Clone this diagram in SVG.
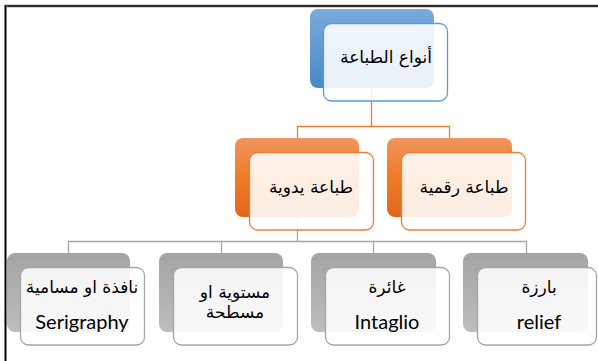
<svg xmlns="http://www.w3.org/2000/svg" width="598" height="361" viewBox="0 0 598 361">
<style>
.ar{font-family:"DejaVu Sans",sans-serif;font-size:17px;fill:#000;text-anchor:middle}
.la{font-family:Lato,"Liberation Sans",sans-serif;font-size:20px;fill:#000;text-anchor:middle}
.fr{fill:#fff;fill-opacity:0.88;stroke-width:1.3}
.fb{stroke:#5b9bd5}.fo{stroke:#ed7d31}.fg{stroke:#a5a5a5}
.co{fill:none;stroke:#ed7d31;stroke-width:1.3}
.cg{fill:none;stroke:#a5a5a5;stroke-width:1.3}
</style>
<defs>
<linearGradient id="gb" x1="0" y1="0" x2="0" y2="1"><stop offset="0" stop-color="#7aaadc"/><stop offset="1" stop-color="#4a88c8"/></linearGradient>
<linearGradient id="go" x1="0" y1="0" x2="0" y2="1"><stop offset="0" stop-color="#f09660"/><stop offset="0.5" stop-color="#f07b25"/><stop offset="1" stop-color="#e0661a"/></linearGradient>
<linearGradient id="gg" x1="0" y1="0" x2="0" y2="1"><stop offset="0" stop-color="#a4a4a4"/><stop offset="1" stop-color="#bdbdbd"/></linearGradient>
</defs>
<rect width="598" height="361" fill="#fff"/>
<g id="frame">
<line x1="4" y1="6" x2="598" y2="6" stroke="#aaa" stroke-width="3"/>
<line x1="4" y1="6" x2="598" y2="6" stroke="#000" stroke-width="1.5"/>
<line x1="5.5" y1="5" x2="5.5" y2="361" stroke="#aaa" stroke-width="3"/>
<line x1="5.5" y1="5" x2="5.5" y2="361" stroke="#000" stroke-width="1.5"/>
</g>
<g id="connectors">
<path class="co" d="M371.5 88V126.5M297.5 138V126.5H449.5V138"/>
<path class="cg" d="M297.5 217V241.5M68.5 253V241.5H526.5V253M221.5 241.5V253M373.5 241.5V253"/>
</g>
<g id="root">
<rect x="310" y="9" width="124" height="79" rx="8" fill="url(#gb)"/>
<rect class="fr fb" x="323.5" y="23.5" width="124" height="77.5" rx="8"/>
<text class="ar" x="386" y="63">أنواع الطباعة</text>
</g>
<g id="manual">
<rect x="235" y="138" width="124" height="79" rx="8" fill="url(#go)"/>
<rect class="fr fo" x="249.5" y="152.5" width="124" height="77.5" rx="8"/>
<text class="ar" x="311" y="193">طباعة يدوية</text>
</g>
<g id="digital">
<rect x="387" y="138" width="125" height="79" rx="8" fill="url(#go)"/>
<rect class="fr fo" x="401.5" y="152.5" width="124" height="77.5" rx="8"/>
<text class="ar" x="464" y="193">طباعة رقمية</text>
</g>
<g id="serigraphy">
<rect x="7" y="253" width="123" height="79" rx="8" fill="url(#gg)"/>
<rect class="fr fg" x="20.5" y="267.5" width="124" height="77.5" rx="8"/>
<text class="ar" x="82" y="293">نافذة او مسامية</text>
<text class="la" x="82" y="329">Serigraphy</text>
</g>
<g id="planographic">
<rect x="159" y="253" width="124" height="79" rx="8" fill="url(#gg)"/>
<rect class="fr fg" x="173.5" y="267.5" width="124" height="77.5" rx="8"/>
<text class="ar" x="235" y="298">مستوية او</text>
<text class="ar" x="235" y="318">مسطحة</text>
</g>
<g id="intaglio">
<rect x="311" y="253" width="125" height="79" rx="8" fill="url(#gg)"/>
<rect class="fr fg" x="325.5" y="267.5" width="124" height="77.5" rx="8"/>
<text class="ar" x="387" y="293">غائرة</text>
<text class="la" x="387" y="329">Intaglio</text>
</g>
<g id="relief">
<rect x="463" y="253" width="125" height="79" rx="8" fill="url(#gg)"/>
<rect class="fr fg" x="477.5" y="267.5" width="119" height="77.5" rx="8"/>
<text class="ar" x="539" y="293">بارزة</text>
<text class="la" x="539" y="329">relief</text>
</g>
</svg>
